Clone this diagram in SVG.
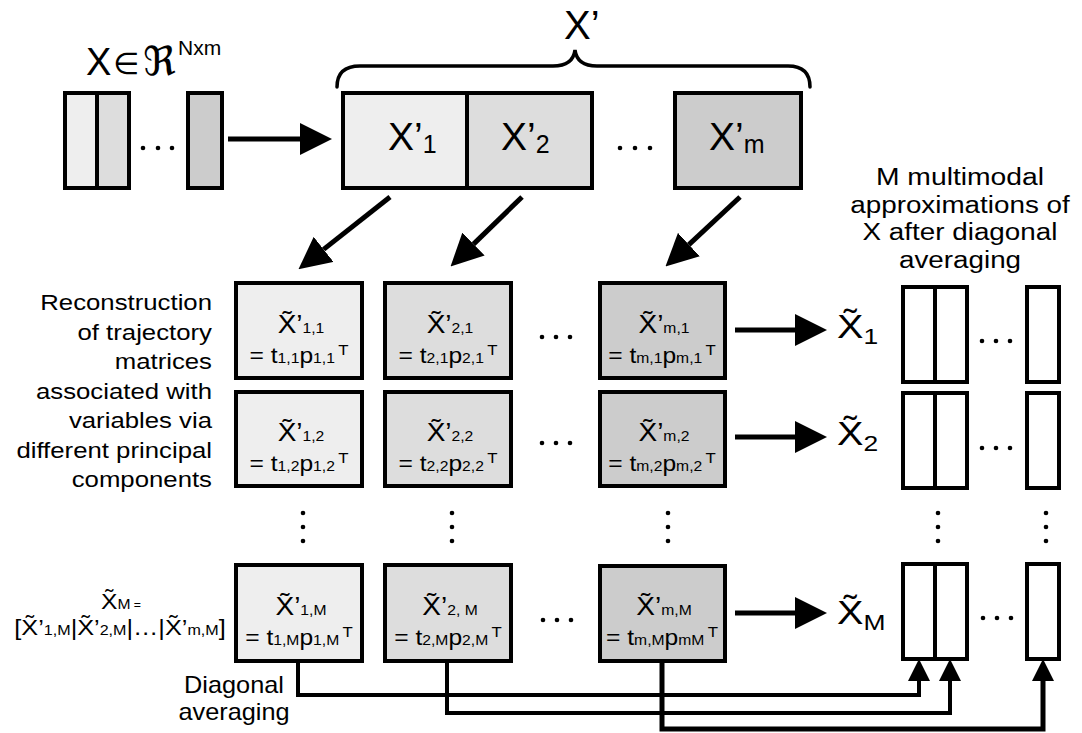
<svg xmlns="http://www.w3.org/2000/svg" width="1082" height="733" viewBox="0 0 1082 733">
<style>
text{font-family:"Liberation Sans",Arial,"DejaVu Sans",sans-serif;fill:#000}
.box{stroke:#000;stroke-width:4}
.c1{fill:#eeeeee}.c2{fill:#dddddd}.c3{fill:#cccccc}.w{fill:#ffffff}
.ln{fill:none;stroke:#000;stroke-width:5}
.bl{fill:none;stroke:#000;stroke-width:4}
.br{fill:none;stroke:#000;stroke-width:3.5;stroke-linecap:round}
.lbl{font-size:23px}
.bx1{font-size:25px}
.bx2{font-size:22px}
</style>
<defs>
<marker id="ah" markerUnits="userSpaceOnUse" markerWidth="32" markerHeight="32" refX="0" refY="15" orient="auto" viewBox="0 0 30 30">
<path d="M0,0 L30,15 L0,30 z" fill="#000"/>
</marker>
<marker id="ahs" markerUnits="userSpaceOnUse" markerWidth="22" markerHeight="22" refX="0" refY="10" orient="auto" viewBox="0 0 20 20">
<path d="M0,0 L20,10 L0,20 z" fill="#000"/>
</marker>
</defs>
<rect width="1082" height="733" fill="#fff"/>

<!-- original X -->
<g id="x-orig">
<text x="86" y="75" font-size="38">X</text>
<text x="113" y="74" font-size="30" font-family="DejaVu Sans">∈</text>
<text x="143" y="75" font-size="40" font-family="DejaVu Sans">ℜ</text>
<text x="178" y="55" font-size="21">Nxm</text>
<rect class="box c1" x="65" y="93" width="32" height="95"/>
<rect class="box c2" x="97" y="93" width="32" height="95"/>
<rect class="box c3" x="188" y="93" width="34" height="95"/>
<circle cx="143" cy="148" r="2.3"/><circle cx="158" cy="148" r="2.3"/><circle cx="172" cy="148" r="2.3"/>
</g>

<!-- X' blocks -->
<g id="x-prime">
<path class="br" d="M337,87 Q337,66 360,66 L553,66 Q573,66 575,50 Q577,66 597,66 L788,66 Q810,66 810,87"/>
<text x="564" y="39" font-size="40">X’</text>
<rect class="box c1" x="343" y="93" width="124" height="95"/>
<rect class="box c2" x="467" y="93" width="125" height="95"/>
<rect class="box c3" x="675" y="93" width="126" height="95"/>
<text x="388" y="150" font-size="39">X’<tspan font-size="25" dy="3">1</tspan></text>
<text x="501" y="150" font-size="39">X’<tspan font-size="25" dy="3">2</tspan></text>
<text x="709" y="150" font-size="39">X’<tspan font-size="25" dy="3">m</tspan></text>
<circle cx="620" cy="148" r="2.3"/><circle cx="635" cy="148" r="2.3"/><circle cx="650" cy="148" r="2.3"/>
</g>

<!-- left labels -->
<g id="label-recon" class="lbl" text-anchor="end">
<text transform="translate(212,310) scale(1.12,1)">Reconstruction</text>
<text transform="translate(212,339.5) scale(1.12,1)">of trajectory</text>
<text transform="translate(212,369) scale(1.12,1)">matrices</text>
<text transform="translate(212,398.5) scale(1.12,1)">associated with</text>
<text transform="translate(212,428) scale(1.12,1)">variables via</text>
<text transform="translate(212,457.5) scale(1.12,1)">different principal</text>
<text transform="translate(212,487) scale(1.12,1)">components</text>
</g>

<g id="label-xm" text-anchor="middle">
<text transform="translate(121,609) scale(1.12,1)" font-size="22">X&#x303;<tspan font-size="14">M</tspan><tspan font-size="11"> =</tspan></text>
<text transform="translate(120,635) scale(1.15,1)" font-size="22">[X&#x303;’<tspan font-size="14">1,M</tspan>|X&#x303;’<tspan font-size="14">2,M</tspan>|…|X&#x303;’<tspan font-size="14">m,M</tspan>]</text>
</g>

<g id="label-diag" class="lbl" text-anchor="middle">
<text transform="translate(234,693) scale(1.1,1)">Diagonal</text>
<text transform="translate(234,720) scale(1.1,1)">averaging</text>
</g>

<g id="label-approx" class="lbl" text-anchor="middle">
<text transform="translate(960,185) scale(1.23,1)">M multimodal</text>
<text transform="translate(960,212.5) scale(1.21,1)">approximations of</text>
<text transform="translate(960,240) scale(1.21,1)">X after diagonal</text>
<text transform="translate(960,267.5) scale(1.21,1)">averaging</text>
</g>

<!-- grid row 1 -->
<g id="cell-1-1">
<rect class="box c1" x="236" y="283" width="126" height="95"/>
<text class="bx1" text-anchor="middle" transform="translate(301,333) scale(1.12,1)">X&#x303;’<tspan font-size="14">1,1</tspan></text>
<text class="bx2" text-anchor="middle" transform="translate(299,363) scale(1.12,1)">= t<tspan font-size="14">1,1</tspan>p<tspan font-size="14">1,1</tspan><tspan font-size="15" dx="3" dy="-8">T</tspan></text>
</g>
<g id="cell-2-1">
<rect class="box c2" x="385" y="283" width="126" height="95"/>
<text class="bx1" text-anchor="middle" transform="translate(450,333) scale(1.12,1)">X&#x303;’<tspan font-size="14">2,1</tspan></text>
<text class="bx2" text-anchor="middle" transform="translate(448,363) scale(1.12,1)">= t<tspan font-size="14">2,1</tspan>p<tspan font-size="14">2,1</tspan><tspan font-size="15" dx="3" dy="-8">T</tspan></text>
</g>
<g id="cell-m-1">
<rect class="box c3" x="600" y="283" width="125" height="95"/>
<text class="bx1" text-anchor="middle" transform="translate(664,333) scale(1.12,1)">X&#x303;’<tspan font-size="14">m,1</tspan></text>
<text class="bx2" text-anchor="middle" transform="translate(662,363) scale(1.12,1)">= t<tspan font-size="14">m,1</tspan>p<tspan font-size="14">m,1</tspan><tspan font-size="15" dx="3" dy="-8">T</tspan></text>
</g>

<!-- grid row 2 -->
<g id="cell-1-2">
<rect class="box c1" x="236" y="392" width="126" height="94"/>
<text class="bx1" text-anchor="middle" transform="translate(301,441) scale(1.12,1)">X&#x303;’<tspan font-size="14">1,2</tspan></text>
<text class="bx2" text-anchor="middle" transform="translate(299,471) scale(1.12,1)">= t<tspan font-size="14">1,2</tspan>p<tspan font-size="14">1,2</tspan><tspan font-size="15" dx="3" dy="-8">T</tspan></text>
</g>
<g id="cell-2-2">
<rect class="box c2" x="385" y="392" width="126" height="94"/>
<text class="bx1" text-anchor="middle" transform="translate(450,441) scale(1.12,1)">X&#x303;’<tspan font-size="14">2,2</tspan></text>
<text class="bx2" text-anchor="middle" transform="translate(448,471) scale(1.12,1)">= t<tspan font-size="14">2,2</tspan>p<tspan font-size="14">2,2</tspan><tspan font-size="15" dx="3" dy="-8">T</tspan></text>
</g>
<g id="cell-m-2">
<rect class="box c3" x="600" y="392" width="125" height="94"/>
<text class="bx1" text-anchor="middle" transform="translate(664,441) scale(1.12,1)">X&#x303;’<tspan font-size="14">m,2</tspan></text>
<text class="bx2" text-anchor="middle" transform="translate(662,471) scale(1.12,1)">= t<tspan font-size="14">m,2</tspan>p<tspan font-size="14">m,2</tspan><tspan font-size="15" dx="3" dy="-8">T</tspan></text>
</g>

<!-- grid row M -->
<g id="cell-1-M">
<rect class="box c1" x="236" y="565" width="126" height="96"/>
<text class="bx1" text-anchor="middle" transform="translate(301,615) scale(1.12,1)">X&#x303;’<tspan font-size="14">1,M</tspan></text>
<text class="bx2" text-anchor="middle" transform="translate(299,645) scale(1.12,1)">= t<tspan font-size="14">1,M</tspan>p<tspan font-size="14">1,M</tspan><tspan font-size="15" dx="3" dy="-8">T</tspan></text>
</g>
<g id="cell-2-M">
<rect class="box c2" x="385" y="565" width="126" height="96"/>
<text class="bx1" text-anchor="middle" transform="translate(450,615) scale(1.12,1)">X&#x303;’<tspan font-size="14">2, M</tspan></text>
<text class="bx2" text-anchor="middle" transform="translate(448,645) scale(1.12,1)">= t<tspan font-size="14">2,M</tspan>p<tspan font-size="14">2,M</tspan><tspan font-size="15" dx="3" dy="-8">T</tspan></text>
</g>
<g id="cell-m-M">
<rect class="box c3" x="600" y="566" width="125" height="95"/>
<text class="bx1" text-anchor="middle" transform="translate(664,615) scale(1.12,1)">X&#x303;’<tspan font-size="14">m,M</tspan></text>
<text class="bx2" text-anchor="middle" transform="translate(662,645) scale(1.12,1)">= t<tspan font-size="14">m,M</tspan>p<tspan font-size="14">mM</tspan><tspan font-size="15" dx="3" dy="-8">T</tspan></text>
</g>

<!-- grid ellipses -->
<g id="grid-dots">
<circle cx="542" cy="337" r="2.3"/><circle cx="556" cy="337" r="2.3"/><circle cx="570" cy="337" r="2.3"/>
<circle cx="542" cy="443" r="2.3"/><circle cx="556" cy="443" r="2.3"/><circle cx="570" cy="443" r="2.3"/>
<circle cx="543" cy="620" r="2.3"/><circle cx="557" cy="620" r="2.3"/><circle cx="571" cy="620" r="2.3"/>
<circle cx="303" cy="513" r="2.3"/><circle cx="303" cy="527" r="2.3"/><circle cx="303" cy="541" r="2.3"/>
<circle cx="452" cy="513" r="2.3"/><circle cx="452" cy="527" r="2.3"/><circle cx="452" cy="541" r="2.3"/>
<circle cx="668" cy="513" r="2.3"/><circle cx="668" cy="527" r="2.3"/><circle cx="668" cy="541" r="2.3"/>
<circle cx="938" cy="513" r="2.3"/><circle cx="938" cy="527" r="2.3"/><circle cx="938" cy="541" r="2.3"/>
<circle cx="1046" cy="513" r="2.3"/><circle cx="1046" cy="527" r="2.3"/><circle cx="1046" cy="541" r="2.3"/>
</g>

<!-- outputs -->
<g id="out-1">
<text transform="translate(837,338) scale(1.2,1)" font-size="33">X&#x303;<tspan font-size="22" dy="6">1</tspan></text>
<rect class="box w" x="903" y="287" width="32" height="95"/>
<rect class="box w" x="935" y="287" width="32" height="95"/>
<rect class="box w" x="1027" y="287" width="32" height="95"/>
<circle cx="982" cy="341" r="2.3"/><circle cx="996" cy="341" r="2.3"/><circle cx="1010" cy="341" r="2.3"/>
</g>
<g id="out-2">
<text transform="translate(837,445) scale(1.2,1)" font-size="33">X&#x303;<tspan font-size="22" dy="6">2</tspan></text>
<rect class="box w" x="903" y="393" width="32" height="95"/>
<rect class="box w" x="935" y="393" width="32" height="95"/>
<rect class="box w" x="1027" y="393" width="32" height="95"/>
<circle cx="982" cy="448" r="2.3"/><circle cx="996" cy="448" r="2.3"/><circle cx="1010" cy="448" r="2.3"/>
</g>
<g id="out-M">
<text transform="translate(837,624) scale(1.2,1)" font-size="33">X&#x303;<tspan font-size="22" dy="6">M</tspan></text>
<rect class="box w" x="903" y="564" width="32" height="95"/>
<rect class="box w" x="935" y="564" width="32" height="95"/>
<rect class="box w" x="1027" y="564" width="32" height="95"/>
<circle cx="983" cy="618" r="2.3"/><circle cx="997" cy="618" r="2.3"/><circle cx="1011" cy="618" r="2.3"/>
</g>

<!-- connectors -->
<g id="connectors">
<path class="ln" d="M228,139 H300" marker-end="url(#ah)"/>
<path class="ln" d="M390,197 L323.6,249.4" marker-end="url(#ah)"/>
<path class="ln" d="M522,197 L473.5,244.1" marker-end="url(#ah)"/>
<path class="ln" d="M740,197 L688.9,244.6" marker-end="url(#ah)"/>
<path class="ln" d="M735,330 H795" marker-end="url(#ah)"/>
<path class="ln" d="M735,437 H795" marker-end="url(#ah)"/>
<path class="ln" d="M735,613 H795" marker-end="url(#ah)"/>
<path class="bl" d="M298,663 V695 H919 V681" marker-end="url(#ahs)"/>
<path class="bl" d="M447,663 V713 H950 V681" marker-end="url(#ahs)"/>
<path class="ln" d="M662,663 V729 H1043 V681" marker-end="url(#ahs)"/>
</g>
</svg>
